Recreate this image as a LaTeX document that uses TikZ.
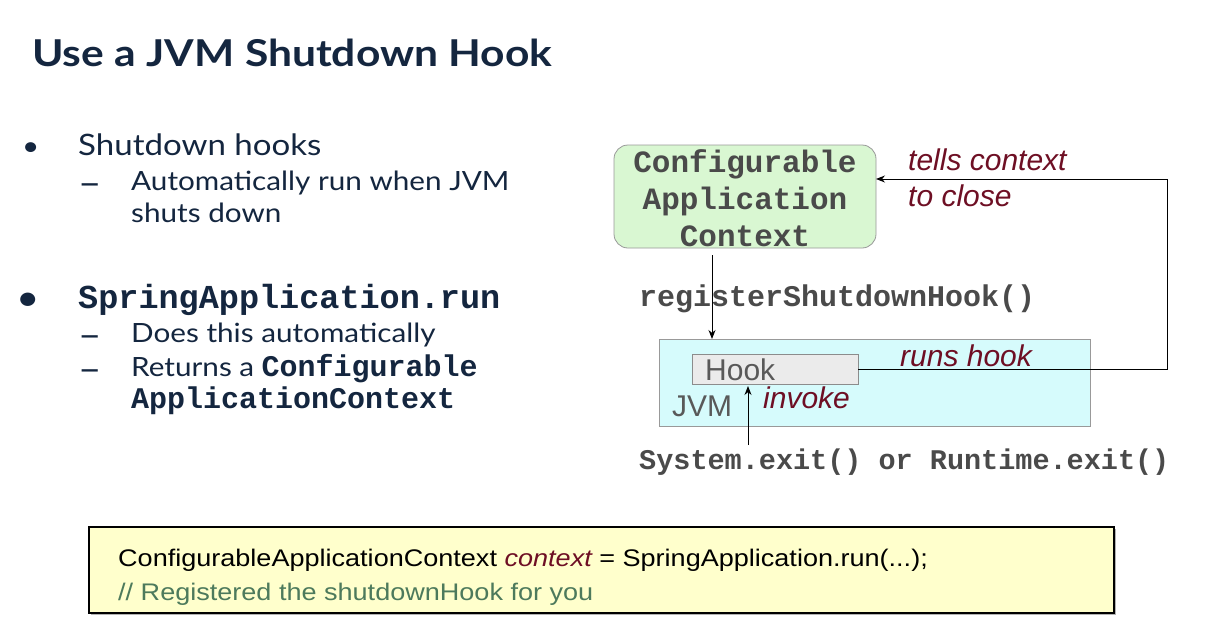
\documentclass[tikz,border=0pt]{standalone}
\usepackage{fontspec}
\setmainfont{Lato}[FakeStretch=1.12]
\newfontfamily\titlef{Lato}[FakeStretch=1.15]
\newfontfamily\arialf{Liberation Sans}
\newfontfamily\codef{Liberation Sans}[FakeStretch=1.127]
\newfontfamily\courf{Liberation Mono}
\usetikzlibrary{arrows.meta}
\definecolor{navy}{HTML}{14263F}
\definecolor{dred}{HTML}{6E0F24}
\definecolor{gtext}{HTML}{4A4A4A}
\definecolor{boxgreen}{HTML}{D9F7D2}
\definecolor{boxcyan}{HTML}{D6FBFC}
\definecolor{hookgray}{HTML}{EBEBEB}
\definecolor{codeyellow}{HTML}{FFFFCC}
\definecolor{cgreen}{HTML}{4D7A5C}
\tikzset{
  title/.style={anchor=base west, inner sep=0, text=navy, font=\titlef\fontsize{37}{44}\selectfont\bfseries},
  body/.style={anchor=base west, inner sep=0, text=navy, font=\fontsize{26.5}{32}\selectfont},
  dashmark/.style={anchor=base west, inner sep=0, text=navy, font=\fontsize{36}{40}\selectfont},
  code/.style={anchor=base west, inner sep=0, text=gtext, font=\courf\bfseries\fontsize{30}{37}\selectfont},
  lbl/.style={anchor=base west, inner sep=0, text=dred, font=\arialf\itshape\fontsize{30}{34}\selectfont},
  arr/.style={-{Stealth[length=9pt,width=7pt]}, line width=1pt},
}
\begin{document}
\begin{tikzpicture}[x=1pt,y=-1pt]
\useasboundingbox[fill=white] (0,0) rectangle (1205,635);
% title
\node[title] (t) at (32,66) {Use a JVM Shutdown Hook};
% bullets
\node[body] (b1) at (22,155) {\textbullet};
\node[body, font=\fontsize{29.5}{32}\selectfont] (s1) at (78,155) {Shutdown hooks};
\node[dashmark] (d1) at (78,195) {--};
\node[body] (s1a) at (131,190) {Automatically run when JVM};
\node[body] (s1b) at (131,222) {shuts down};
\node[body, font=\fontsize{36}{40}\selectfont] (b2) at (16,310) {\textbullet};
\node[anchor=base west, inner sep=0, text=navy, font=\courf\bfseries\fontsize{33.5}{38}\selectfont] (s2) at (78,308) {SpringApplication.run};
\node[dashmark] (d2) at (78,347) {--};
\node[body] (s2a) at (131,342) {Does this automatically};
\node[dashmark] (d3) at (78,381) {--};
\node[body] (s2b) at (131,376) {Returns a {\courf\bfseries\fontsize{30}{34}\selectfont Configurable}};
\node[anchor=base west, inner sep=0, text=navy, font=\courf\bfseries\fontsize{30}{34}\selectfont] (s2c) at (131,408) {ApplicationContext};
% diagram
\draw[draw=gray!80, fill=boxgreen, rounded corners=14pt, line width=0.8pt] (614,145) rectangle (876,248);
\node[code, anchor=base, font=\courf\bfseries\fontsize{31}{37}\selectfont] (c1) at (745,172) {Configurable};
\node[code, anchor=base, font=\courf\bfseries\fontsize{31}{37}\selectfont] (c2) at (745,209) {Application};
\node[code, anchor=base, font=\courf\bfseries\fontsize{31}{37}\selectfont] (c3) at (745,246) {Context};
\coordinate (ctxR) at (876,179);
\coordinate (ctxB) at (712,255);
\draw[draw=gray!80, fill=boxcyan, line width=0.8pt] (659,339) rectangle (1090,426);
\coordinate (jvmT) at (712,339);
\draw[draw=gray!90, fill=hookgray, line width=0.8pt] (692,354) rectangle (858,384);
\node[anchor=base west, inner sep=0, text=gray!70!black, font=\arialf\fontsize{30}{34}\selectfont] (hook) at (705,380) {Hook};
\coordinate (hookR) at (858,369);
\coordinate (hookB) at (748,386);
\node[anchor=base west, inner sep=0, text=gray!70!black, font=\arialf\fontsize{30}{34}\selectfont] (jvm) at (672,416) {JVM};
\node[lbl] (inv) at (763,408) {invoke};
\node[lbl] (runs) at (900,366) {runs hook};
\node[lbl] (tc1) at (908,170) {tells context};
\node[lbl] (tc2) at (908,206) {to close};
\node[code] (reg) at (639,306) {registerShutdownHook()};
\node[code, font=\courf\bfseries\fontsize{28.5}{34}\selectfont] (sys) at (639,469) {System.exit() or Runtime.exit()};
\coordinate (sysT) at (748,445);
\draw[arr] (ctxB) -- (jvmT);
\draw[arr] (hookR) -- (1167,369) -- (1167,179) -- (ctxR);
\draw[arr] (sysT) -- (hookB);
% code box
\fill[gray!60] (91,529) rectangle (1116,615);
\draw[draw=black, fill=codeyellow, line width=1.5pt] (89,527) rectangle (1114,613);
\node[anchor=base west, inner sep=0, text=black, font=\codef\fontsize{24}{28}\selectfont] (l1) at (118,566) {ConfigurableApplicationContext {\color{dred}\itshape context} = SpringApplication.run(...);};
\node[anchor=base west, inner sep=0, text=cgreen, font=\codef\fontsize{24}{28}\selectfont] (l2) at (118,600) {// Registered the shutdownHook for you};
\end{tikzpicture}
\end{document}
